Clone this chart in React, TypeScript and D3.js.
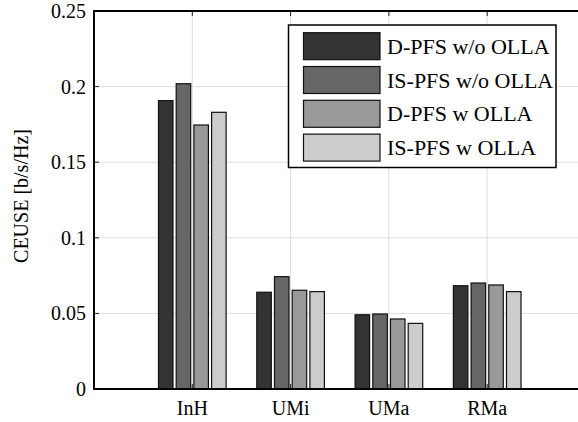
import React, { useEffect, useRef } from 'react';
import * as d3 from 'd3';

const categories = ['InH', 'UMi', 'UMa', 'RMa'];
const seriesNames = ['D-PFS w/o OLLA', 'IS-PFS w/o OLLA', 'D-PFS w OLLA', 'IS-PFS w OLLA'];
const dPfsWoOlla = [0.1907, 0.064, 0.0491, 0.0683];
const isPfsWoOlla = [0.2019, 0.0743, 0.0496, 0.0701];
const dPfsWOlla = [0.1746, 0.0653, 0.0463, 0.0688];
const isPfsWOlla = [0.183, 0.0644, 0.0434, 0.0644];
const yTicks = [0, 0.05, 0.1, 0.15, 0.2, 0.25];
const yTickLabels = ['0', '0.05', '0.1', '0.15', '0.2', '0.25'];

const colors = ['#333333', '#666666', '#999999', '#cccccc'];

const App: React.FC = () => {
  const svgRef = useRef<SVGSVGElement | null>(null);

  useEffect(() => {
    const svg = d3.select(svgRef.current);
    svg.selectAll('*').remove();

    const width = 578;
    const height = 422;
    const left = 94;
    const top = 11;
    const bottom = 389;
    const unit = 98.3;
    const font = 'Liberation Serif, DejaVu Serif, serif';

    const series = [dPfsWoOlla, isPfsWoOlla, dPfsWOlla, isPfsWOlla];

    // x runs in group units, group i sits at i + 1
    const x = d3.scaleLinear().domain([0, 6]).range([left, left + 6 * unit]);
    const y = d3.scaleLinear().domain([0, 0.25]).range([bottom, top]);
    const inner = d3
      .scaleBand<number>()
      .domain(d3.range(seriesNames.length))
      .range([-0.344 * unit, 0.344 * unit])
      .paddingInner(0.18);

    svg.attr('width', width).attr('height', height);

    const grid = svg.append('g').attr('stroke', '#dcdcdc').attr('stroke-width', 1);
    yTicks.slice(1, -1).forEach((t) => {
      grid.append('line').attr('x1', left).attr('x2', width).attr('y1', y(t)).attr('y2', y(t));
    });
    categories.forEach((_, i) => {
      grid.append('line').attr('x1', x(i + 1)).attr('x2', x(i + 1)).attr('y1', top).attr('y2', bottom);
    });

    series.forEach((values, s) => {
      svg
        .append('g')
        .selectAll('rect')
        .data(values)
        .join('rect')
        .attr('x', (d, i) => x(i + 1) + (inner(s) || 0))
        .attr('y', (d) => y(d))
        .attr('width', inner.bandwidth())
        .attr('height', (d) => bottom - y(d))
        .attr('fill', colors[s])
        .attr('stroke', '#111')
        .attr('stroke-width', 1.2);
    });

    // tick marks on the inside of the box
    const ticks = svg.append('g').attr('stroke', '#222').attr('stroke-width', 1);
    categories.forEach((_, i) => {
      ticks.append('line').attr('x1', x(i + 1)).attr('x2', x(i + 1)).attr('y1', top).attr('y2', top + 5);
      ticks.append('line').attr('x1', x(i + 1)).attr('x2', x(i + 1)).attr('y1', bottom).attr('y2', bottom - 5);
    });
    yTicks.forEach((t) => {
      ticks.append('line').attr('x1', left).attr('x2', left + 5).attr('y1', y(t)).attr('y2', y(t));
    });

    const axes = svg.append('g').attr('stroke', '#000').attr('stroke-width', 2).attr('fill', 'none');
    axes.append('path').attr('d', `M${width},${top}H${left}V${bottom}H${width}`);

    svg
      .append('g')
      .selectAll('text')
      .data(yTicks)
      .join('text')
      .attr('x', left - 8)
      .attr('y', (d) => y(d))
      .attr('dy', '0.35em')
      .attr('text-anchor', 'end')
      .style('font-family', font)
      .attr('font-size', 20)
      .text((d, i) => yTickLabels[i]);

    svg
      .append('g')
      .selectAll('text')
      .data(categories)
      .join('text')
      .attr('x', (d, i) => x(i + 1))
      .attr('y', 415)
      .attr('text-anchor', 'middle')
      .style('font-family', font)
      .attr('font-size', 20)
      .text((d) => d);

    svg
      .append('text')
      .attr('transform', 'translate(28,196) rotate(-90)')
      .attr('text-anchor', 'middle')
      .style('font-family', font)
      .attr('font-size', 20)
      .text('CEUSE [b/s/Hz]');

    // legend
    const lg = svg.append('g');
    lg.append('rect')
      .attr('x', 288.5)
      .attr('y', 25)
      .attr('width', 267.5)
      .attr('height', 142.5)
      .attr('fill', '#fff')
      .attr('stroke', '#000')
      .attr('stroke-width', 1.5);
    seriesNames.forEach((name, s) => {
      const cy = 46.2 + s * 33.8;
      lg.append('rect')
        .attr('x', 303.5)
        .attr('y', cy - 13.5)
        .attr('width', 76.5)
        .attr('height', 27)
        .attr('fill', colors[s])
        .attr('stroke', '#111')
        .attr('stroke-width', 1.2);
      lg.append('text')
        .attr('x', 387)
        .attr('y', cy + 7.5)
        .style('font-family', font)
        .attr('font-size', 22)
        .text(name);
    });
  }, []);

  return <svg ref={svgRef} style={{ position: 'absolute', left: 0, top: 0 }} />;
};

export default App;
